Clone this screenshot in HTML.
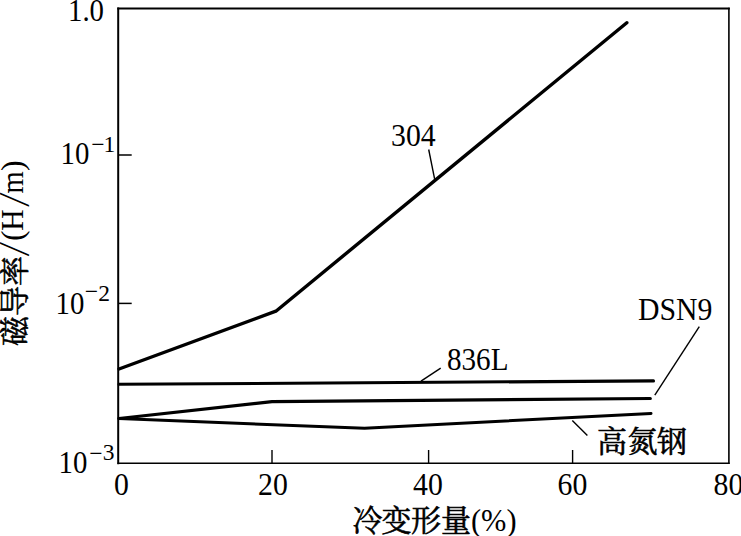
<!DOCTYPE html>
<html>
<head>
<meta charset="utf-8">
<style>
html,body{margin:0;padding:0;background:#fff;}
body{width:741px;height:536px;overflow:hidden;}
svg{display:block;}
text{font-family:'Liberation Serif','Noto Serif CJK SC',serif;fill:#000;}
.cj{stroke:#000;stroke-width:0.6px;}
</style>
</head>
<body>
<svg width="741" height="536" viewBox="0 0 741 536">
<rect x="0" y="0" width="741" height="536" fill="#fff"/>
<g stroke="#000" fill="none" stroke-linecap="square"><line x1="118.2" y1="8.5" x2="118.2" y2="463.2" stroke-width="2"/><line x1="118.2" y1="8.5" x2="728.9" y2="8.5" stroke-width="1.8"/><line x1="728.9" y1="8.5" x2="728.9" y2="463.2" stroke-width="1.6"/><line x1="118.2" y1="463.2" x2="728.9" y2="463.2" stroke-width="1.4"/></g>
<line x1="118" y1="155" x2="131.7" y2="155" stroke="#000" stroke-width="1.5"/>
<line x1="118" y1="303.4" x2="131.7" y2="303.4" stroke="#000" stroke-width="1.5"/>
<line x1="272" y1="450" x2="272" y2="463" stroke="#000" stroke-width="1.4"/>
<line x1="428.6" y1="450" x2="428.6" y2="463" stroke="#000" stroke-width="1.4"/>
<line x1="572.6" y1="450" x2="572.6" y2="463" stroke="#000" stroke-width="1.4"/>
<g fill="none" stroke="#000" stroke-linejoin="round" stroke-linecap="round">
<polyline points="119,369 275.9,311.2 626.8,22.7" stroke-width="3.4"/>
<polyline points="119,384.3 653.5,380.9" stroke-width="3.1"/>
<polyline points="119,418.5 272,401.6 650.3,398.5" stroke-width="3.2"/>
<polyline points="119,418.5 364.5,428.3 651,413.4" stroke-width="3"/>
</g>
<g fill="none" stroke="#000" stroke-width="1.4">
<line x1="428.7" y1="149.5" x2="434.6" y2="178.9"/>
<line x1="440.7" y1="368.2" x2="421" y2="381.2"/>
<line x1="699.3" y1="326.6" x2="654.8" y2="395.2"/>
<line x1="572.3" y1="420.4" x2="587.4" y2="435.5"/>
</g>
<text transform="translate(68,20.5) scale(0.9,1)" font-size="32">1.0</text>
<text transform="translate(60.5,163.8) scale(0.9,1)" font-size="32">10</text><text x="91.2" y="152.2" font-size="23.5">−</text><text x="103.6" y="151.6" font-size="23.5">1</text>
<text transform="translate(55.5,313.8) scale(0.9,1)" font-size="32">10</text><text x="84.8" y="299.4" font-size="23.5">−</text><text x="98.3" y="301.2" font-size="23.5">2</text>
<text transform="translate(58.5,472.5) scale(0.9,1)" font-size="32">10</text><text x="89.2" y="461.2" font-size="23.5">−</text><text x="102.8" y="460.2" font-size="23.5">3</text>
<text transform="translate(114,494.9) scale(0.93,1)" font-size="32">0</text>
<text transform="translate(258,494.9) scale(0.93,1)" font-size="32">20</text>
<text transform="translate(413,494.9) scale(0.93,1)" font-size="32">40</text>
<text transform="translate(557.5,494.9) scale(0.93,1)" font-size="32">60</text>
<text transform="translate(713.5,494.9) scale(0.93,1)" font-size="32">80</text>
<text transform="translate(391,146.2) scale(0.93,1)" font-size="32">304</text>
<text transform="translate(447,369.8) scale(0.91,1)" font-size="32">836L</text>
<text transform="translate(638,319.8) scale(0.93,1)" font-size="32">DSN9</text>
<text x="597 627.5 657" y="451.6" font-size="30" class="cj">高氮钢</text>
<text x="352.5 381.5 411 441" y="531" font-size="30" class="cj">冷变形量</text><text transform="translate(471,530.5) scale(0.95,1)" font-size="32">(%)</text>
<g transform="translate(22.5,346) rotate(-90)"><text x="0" y="2" font-size="30" class="cj">磁导率</text><text transform="translate(89.6,1.5) scale(1.4,1)" font-size="31" style="font-family:'Noto Serif CJK SC',serif;font-weight:300">/</text><text x="105" y="0" font-size="32">(</text><text transform="translate(115.2,0) scale(0.93,1)" font-size="32">H</text><text transform="translate(139,1.5) scale(1.4,1)" font-size="31" style="font-family:'Noto Serif CJK SC',serif;font-weight:300">/</text><text transform="translate(152.6,0) scale(0.92,1)" font-size="31">m</text><text x="175" y="0" font-size="32">)</text></g>
</svg>
</body>
</html>
